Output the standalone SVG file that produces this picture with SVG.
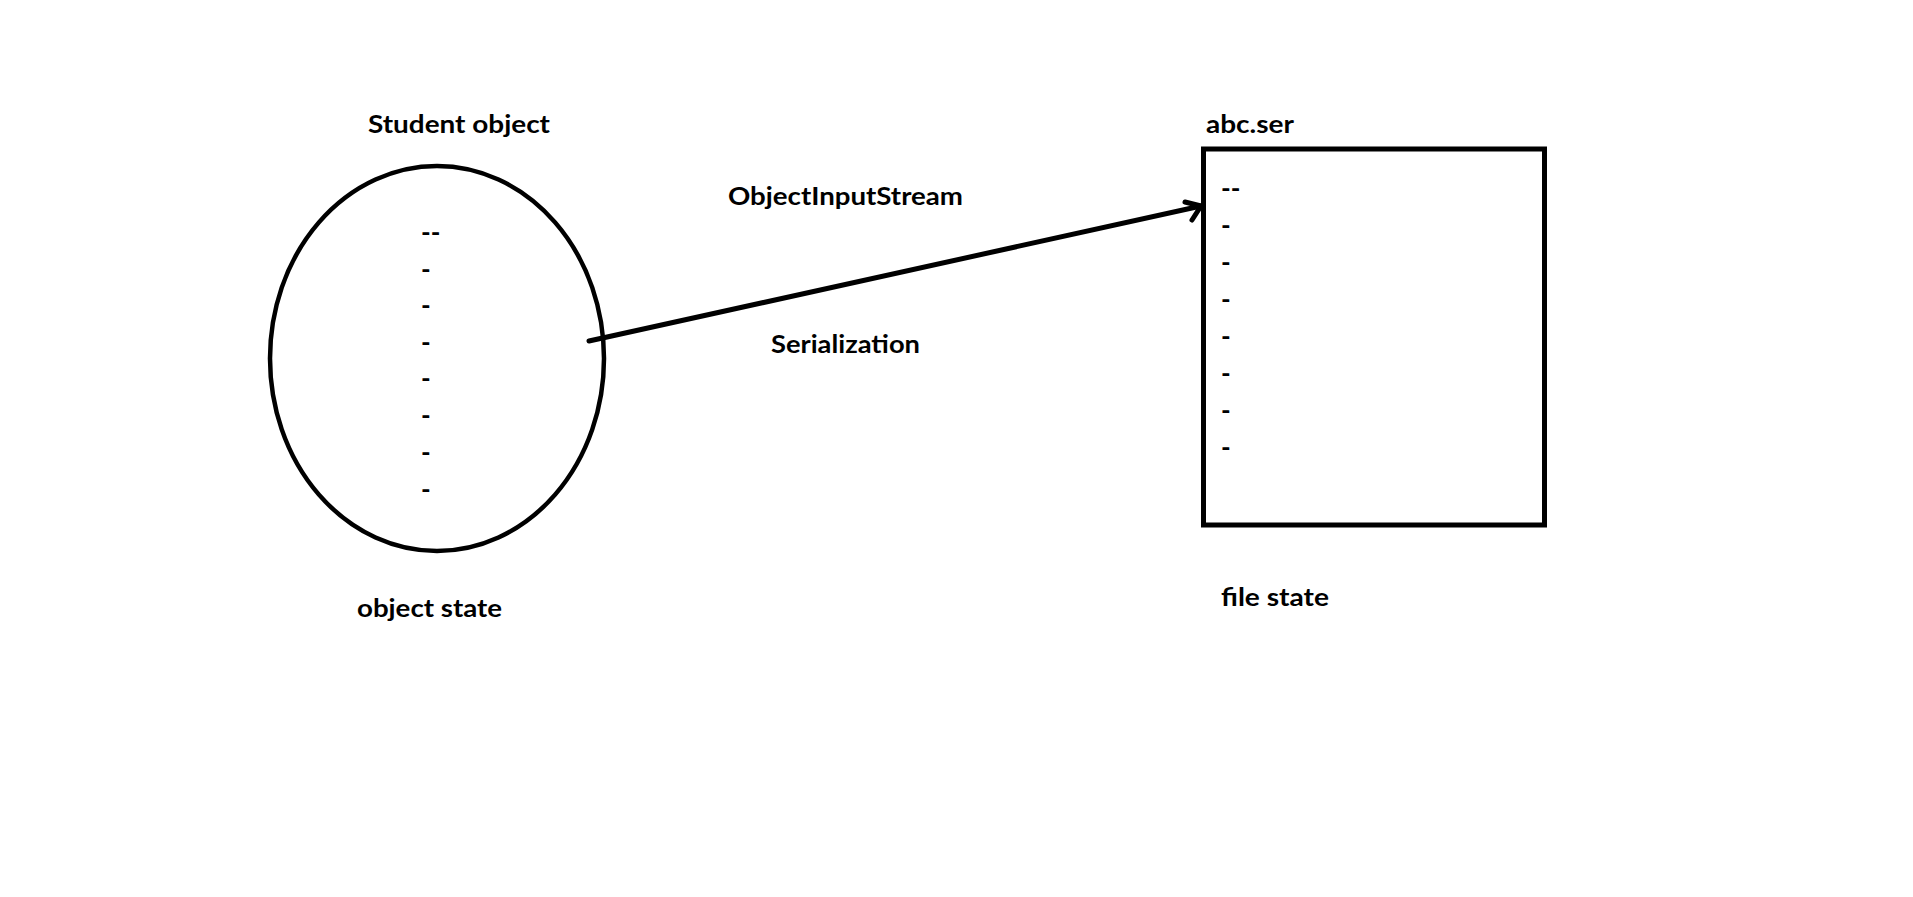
<svg xmlns="http://www.w3.org/2000/svg" width="1913" height="897" viewBox="0 0 1913 897">
<style>
text{font-family:Lato,"Open Sans","Liberation Sans",sans-serif;font-weight:bold;font-size:25px;fill:#000}
.shape{fill:none;stroke:#000}
.dash{font-size:26px}
</style>
<rect x="0" y="0" width="1913" height="897" fill="#fff"/>
<g id="student-object">
<ellipse class="shape" cx="437" cy="358.5" rx="167" ry="192.5" stroke-width="4.5"/>
<text x="368" y="133" textLength="182" lengthAdjust="spacingAndGlyphs">Student object</text>
<g class="dash">
<text class="dash" x="421" y="242">--</text>
<text class="dash" x="421" y="279">-</text>
<text class="dash" x="421" y="315">-</text>
<text class="dash" x="421" y="352">-</text>
<text class="dash" x="421" y="388">-</text>
<text class="dash" x="421" y="425">-</text>
<text class="dash" x="421" y="462">-</text>
<text class="dash" x="421" y="499">-</text>
</g>
<text x="357" y="617" textLength="145" lengthAdjust="spacingAndGlyphs">object state</text>
</g>
<g id="abc-ser">
<rect class="shape" x="1203.5" y="149" width="341" height="376" stroke-width="5"/>
<text x="1206" y="133" textLength="88" lengthAdjust="spacingAndGlyphs">abc.ser</text>
<text class="dash" x="1221" y="198">--</text>
<text class="dash" x="1221" y="235">-</text>
<text class="dash" x="1221" y="272">-</text>
<text class="dash" x="1221" y="309">-</text>
<text class="dash" x="1221" y="346">-</text>
<text class="dash" x="1221" y="383">-</text>
<text class="dash" x="1221" y="420">-</text>
<text class="dash" x="1221" y="457">-</text>
<text x="1221" y="606" textLength="108" lengthAdjust="spacingAndGlyphs">file state</text>
</g>
<g id="connectors">
<line x1="589" y1="341" x2="1201" y2="206" stroke="#000" stroke-width="5" stroke-linecap="round"/>
<polyline points="1185,202 1201,206 1192,220" fill="none" stroke="#000" stroke-width="5" stroke-linecap="round" stroke-linejoin="round"/>
<text x="728" y="205" textLength="235" lengthAdjust="spacingAndGlyphs">ObjectInputStream</text>
<text x="771" y="353" textLength="149" lengthAdjust="spacingAndGlyphs">Serialization</text>
</g>
</svg>
